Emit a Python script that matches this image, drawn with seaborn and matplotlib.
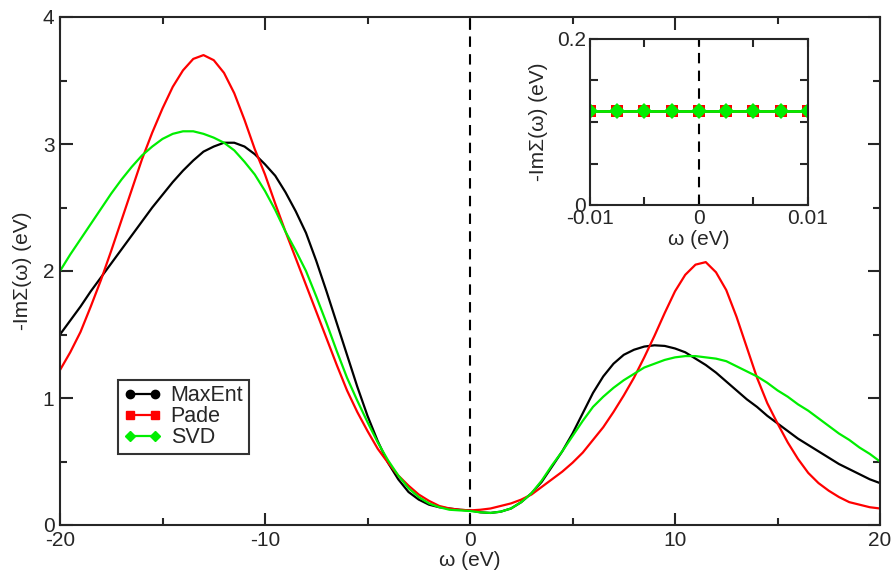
import numpy as np
import pandas as pd
import matplotlib
matplotlib.use("Agg")
import matplotlib.pyplot as plt
import seaborn as sns
from matplotlib.lines import Line2D
from matplotlib.ticker import MultipleLocator

# frequencies (eV), every 0.5 eV from -20 to 20, and -Im Sigma
omega = list(np.arange(-20, 20.5, 0.5))
maxent = [1.50, 1.61, 1.72, 1.84, 1.95, 2.06, 2.17, 2.28, 2.39, 2.50,
          2.60, 2.70, 2.79, 2.87, 2.94, 2.98, 3.01, 3.01, 2.98, 2.92,
          2.84, 2.75, 2.62, 2.47, 2.30, 2.08, 1.84, 1.59, 1.34, 1.09,
          0.86, 0.66, 0.49, 0.36, 0.26, 0.20, 0.16, 0.14, 0.13, 0.12,
          0.115, 0.10, 0.095, 0.105, 0.13, 0.18, 0.25, 0.34, 0.46, 0.58,
          0.72, 0.88, 1.04, 1.17, 1.27, 1.34, 1.38, 1.405, 1.415, 1.41,
          1.39, 1.36, 1.31, 1.26, 1.20, 1.13, 1.06, 0.99, 0.93, 0.86,
          0.80, 0.74, 0.68, 0.63, 0.58, 0.53, 0.48, 0.44, 0.40, 0.36,
          0.33]
pade = [1.22, 1.36, 1.52, 1.72, 1.93, 2.16, 2.40, 2.64, 2.88, 3.09,
        3.28, 3.45, 3.58, 3.67, 3.70, 3.66, 3.56, 3.40, 3.19, 2.96,
        2.76, 2.53, 2.31, 2.10, 1.89, 1.68, 1.47, 1.26, 1.06, 0.89,
        0.74, 0.60, 0.49, 0.39, 0.31, 0.24, 0.19, 0.15, 0.13, 0.12,
        0.115, 0.12, 0.13, 0.15, 0.17, 0.20, 0.24, 0.30, 0.36, 0.42,
        0.49, 0.57, 0.67, 0.77, 0.89, 1.02, 1.16, 1.32, 1.49, 1.67,
        1.84, 1.97, 2.05, 2.07, 1.99, 1.85, 1.64, 1.40, 1.16, 0.96,
        0.80, 0.65, 0.52, 0.41, 0.33, 0.27, 0.22, 0.18, 0.16, 0.14,
        0.13]
svd = [2.00, 2.13, 2.25, 2.37, 2.49, 2.61, 2.72, 2.82, 2.91, 2.98,
       3.04, 3.08, 3.10, 3.10, 3.08, 3.05, 3.01, 2.95, 2.86, 2.76,
       2.63, 2.48, 2.31, 2.16, 2.00, 1.80, 1.59, 1.37, 1.16, 0.98,
       0.81, 0.65, 0.51, 0.39, 0.29, 0.22, 0.17, 0.14, 0.12, 0.115,
       0.11, 0.10, 0.095, 0.105, 0.13, 0.18, 0.25, 0.35, 0.47, 0.58,
       0.70, 0.82, 0.93, 1.01, 1.08, 1.14, 1.19, 1.24, 1.27, 1.30,
       1.32, 1.33, 1.33, 1.32, 1.31, 1.29, 1.25, 1.21, 1.17, 1.12,
       1.06, 1.01, 0.95, 0.90, 0.84, 0.78, 0.72, 0.67, 0.61, 0.56,
       0.50]

# inset: small-frequency window
omega_small = [-0.01, -0.0075, -0.005, -0.0025, 0.0, 0.0025, 0.005, 0.0075, 0.01]
maxent_small = [0.113] * 9
pade_small = [0.113] * 9
svd_small = [0.113] * 9

methods = ["MaxEnt", "Pade", "SVD"]
colors = {"MaxEnt": "black", "Pade": "red", "SVD": "#00ee00"}
markers = {"MaxEnt": "o", "Pade": "s", "SVD": "D"}

n = len(omega)
df = pd.DataFrame({
    "omega": omega * 3,
    "sigma": maxent + pade + svd,
    "method": ["MaxEnt"] * n + ["Pade"] * n + ["SVD"] * n,
})
df_small = pd.DataFrame({
    "omega": omega_small * 3,
    "sigma": maxent_small + pade_small + svd_small,
    "method": ["MaxEnt"] * 9 + ["Pade"] * 9 + ["SVD"] * 9,
})

sns.set_style("ticks")
plt.rcParams["font.family"] = ["Liberation Sans", "DejaVu Sans"]
plt.rcParams["axes.unicode_minus"] = False
fs = 15

fig = plt.figure(figsize=(8.95, 5.81), dpi=100)
ax = fig.add_axes([60 / 895, 56 / 581, 820 / 895, 508 / 581])

sns.lineplot(data=df, x="omega", y="sigma", hue="method", palette=colors,
             linewidth=1.6, legend=False, ax=ax)
ax.axvline(0, color="black", lw=1.5, ls=(0, (5, 3.5)), zorder=1)

ax.set_xlim(-20, 20)
ax.set_ylim(0, 4)
ax.xaxis.set_major_locator(MultipleLocator(10))
ax.xaxis.set_minor_locator(MultipleLocator(5))
ax.yaxis.set_major_locator(MultipleLocator(1))
ax.yaxis.set_minor_locator(MultipleLocator(0.5))
ax.tick_params(which="both", direction="in", top=True, right=True, width=1.5,
               labelsize=fs, pad=4)
ax.tick_params(which="major", length=9)
ax.tick_params(which="minor", length=5)
for s in ax.spines.values():
    s.set_linewidth(1.5)
ax.set_xlabel("ω (eV)", fontsize=fs, labelpad=1)
ax.set_ylabel("-ImΣ(ω) (eV)", fontsize=fs, labelpad=8)

handles = [Line2D([0], [0], color=colors[m], marker=markers[m], lw=1.6,
                  markersize=6 if m != "SVD" else 5.5) for m in methods]
leg = ax.legend(handles, methods, loc="upper left",
                bbox_to_anchor=(58 / 820, 145 / 508), numpoints=2,
                fontsize=15.5, frameon=True, fancybox=False, handlelength=1.75,
                handletextpad=0.45, borderpad=0.25, labelspacing=0.0,
                borderaxespad=0)
leg.get_frame().set_edgecolor("black")
leg.get_frame().set_linewidth(1.5)

# inset
axin = fig.add_axes([590 / 895, 376 / 581, 218 / 895, 166 / 581])
for m in methods:
    sub = df_small[df_small["method"] == m]
    sns.lineplot(data=sub, x="omega", y="sigma", color=colors[m],
                 marker=markers[m], markersize=8, markeredgewidth=0,
                 linewidth=2, ax=axin)
axin.axvline(0, color="black", lw=1.5, ls=(0, (5, 3.5)), zorder=1)
axin.set_xlim(-0.01, 0.01)
axin.set_ylim(0, 0.2)
axin.set_xticks([-0.01, 0, 0.01])
axin.set_xticklabels(["-0.01", "0", "0.01"])
axin.set_yticks([0, 0.2])
axin.set_yticklabels(["0", "0.2"])
axin.xaxis.set_minor_locator(MultipleLocator(0.005))
axin.yaxis.set_minor_locator(MultipleLocator(0.05))
axin.tick_params(which="both", direction="in", top=True, right=True, width=1.5,
                 labelsize=fs, pad=3)
axin.tick_params(which="major", length=6)
axin.tick_params(which="minor", length=6)
for s in axin.spines.values():
    s.set_linewidth(1.5)
axin.set_xlabel("ω (eV)", fontsize=fs, labelpad=1)
axin.set_ylabel("-ImΣ(ω) (eV)", fontsize=fs, labelpad=6)

fig.savefig("out.png", dpi=100)
